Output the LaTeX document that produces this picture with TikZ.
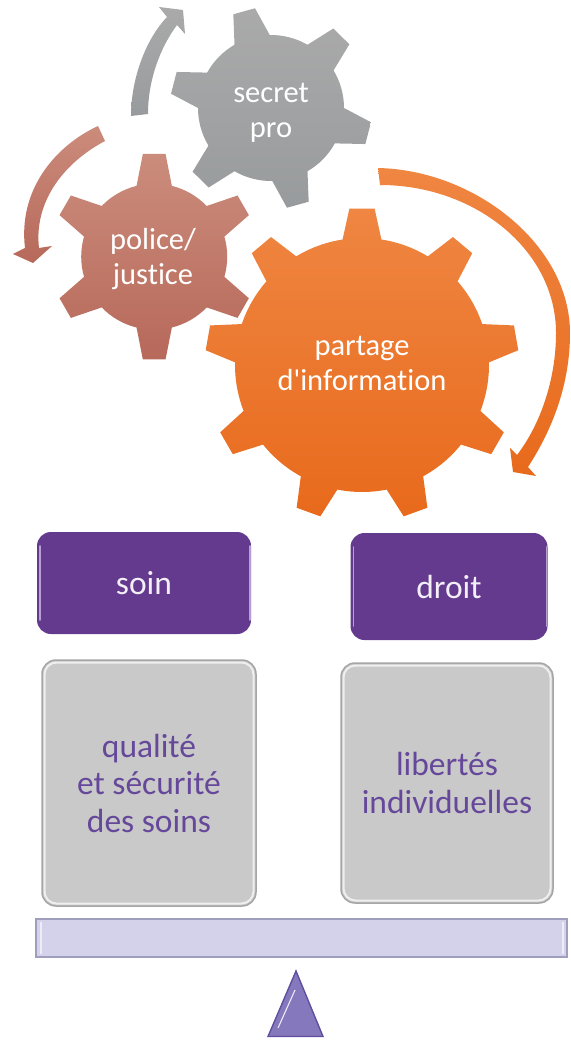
\documentclass[tikz,border=0pt]{standalone}
\usepackage{fontspec}
\setmainfont[Ligatures=NoCommon]{Carlito}
\definecolor{purpleBox}{HTML}{643A8F}
\definecolor{purpleLight}{HTML}{B79FD0}
\definecolor{purpleText}{HTML}{66489A}
\definecolor{grayBox}{HTML}{C9C9C9}
\definecolor{grayEdge}{HTML}{A6A6A6}
\definecolor{grayLight}{HTML}{EFEFEF}
\definecolor{barFill}{HTML}{D3D2EA}
\definecolor{barEdge}{HTML}{A09EBE}
\definecolor{triFill}{HTML}{8678BC}
\definecolor{triEdge}{HTML}{5F4F9C}
\tikzset{
  x=1pt,y=-1pt,
  grayshade/.style={top color={rgb,255:red,170;green,170;blue,170},bottom color={rgb,255:red,152;green,155;blue,157}},
  policeshade/.style={top color={rgb,255:red,203;green,140;blue,124},bottom color={rgb,255:red,183;green,105;blue,90}},
  orangeshade/.style={top color={rgb,255:red,239;green,134;blue,66},bottom color={rgb,255:red,232;green,106;blue,28}},
  geartext/.style={text=white,align=center,font=\fontsize{30.5}{35}\selectfont,inner sep=0pt},
  box/.style={rectangle,rounded corners=14pt,inner sep=0pt,outer sep=0pt,align=center,font=\fontsize{33.5}{37.5}\selectfont},
  purplebox/.style={box,fill=purpleBox,text=white!92!purpleBox},
  graybox/.style={box,fill=grayBox,draw=grayEdge,line width=1.5pt,text=purpleText},
  sidelight/.style={line width=1.6pt,line cap=round},
}
% cx cy rbody router nteeth firstangle baseHalfAngle tipHalfAngle shadingstyle
\newcommand{\drawgear}[9]{%
  \begin{scope}[shift={(#1,#2)},x=1pt,y=1pt]
    \pgfmathsetmacro{\gstep}{360/#5}
    \pgfmathsetmacro{\gsecond}{#6+\gstep}
    \pgfmathsetmacro{\glast}{#6+\gstep*(#5-1)}
    \pgfmathsetmacro{\gdelta}{\gstep-2*#7}
    \shade[#9] ({#6-#7}:#3)
      foreach \a in {#6,\gsecond,...,\glast} {
        -- ({\a-#8}:#4) -- ({\a+#8}:#4) -- ({\a+#7}:#3)
        arc[start angle={\a+#7},delta angle=\gdelta,radius=#3]
      } -- cycle;
  \end{scope}}
% node, colour: straight highlights along the left and right sides
\newcommand{\sidebevel}[2]{%
  \draw[#2,sidelight] ([xshift=3pt,yshift=-14pt]#1.north west) -- ([xshift=3pt,yshift=14pt]#1.south west);
  \draw[#2,sidelight] ([xshift=-1pt,yshift=-14pt]#1.north east) -- ([xshift=-1pt,yshift=14pt]#1.south east);}
\newcommand{\fullbevel}[2]{%
  \draw[#2,line width=2pt,rounded corners=12pt]
    ([xshift=2.5pt,yshift=-2.5pt]#1.north west) rectangle ([xshift=-2.5pt,yshift=2.5pt]#1.south east);}
\begin{document}
\begin{tikzpicture}
\useasboundingbox (0,0) rectangle (570,1040);
\clip (0,0) rectangle (570,1040);
% gears
\drawgear{271}{108}{73}{101}{6}{105.5}{14.5}{6.4}{grayshade}
\drawgear{154.2}{256.7}{73}{103.4}{6}{90}{14}{6.3}{policeshade}
\begin{scope}
  \clip (0,0) rectangle (570,517.5);
  \drawgear{362}{365}{127}{157}{9}{90}{8.8}{4.6}{orangeshade}
\end{scope}
% circular arrows
\shade[grayshade] (131,116) .. controls (131,80) and (145,40) .. (167,17)
  -- (159,7) -- (183,10) -- (185,34) -- (177,25)
  .. controls (160,48) and (148,80) .. (148,114) -- cycle;
\shade[policeshade] (98,126) .. controls (55,146) and (18,190) .. (25,248)
  -- (13,254) -- (33,263) -- (52,246) -- (39,248)
  .. controls (34,205) and (60,165) .. (105,141) -- cycle;
\shade[orangeshade] (378,168) .. controls (475,170) and (570,245) .. (570,333)
  .. controls (570,385) and (552,430) .. (528,467)
  -- (536,476) -- (513,472) -- (510,448) -- (517,455)
  .. controls (540,425) and (556,380) .. (556,333)
  .. controls (556,250) and (475,185) .. (380,185) -- cycle;
% gear labels
\node[geartext] (secretpro) at (271,113) {secret\\pro};
\node[geartext] (police) at (153,259) {police/\\justice};
\node[geartext] (partage) at (362,363) {partage\\d\textquotesingle information};
% boxes
\node[purplebox,minimum width=214pt,minimum height=102pt] (soin) at (144,583) {soin};
\node[purplebox,minimum width=197pt,minimum height=107pt] (droit) at (449,586.5) {droit};
\node[graybox,minimum width=214pt,minimum height=246pt] (qualite) at (149,783) {qualité\\et sécurité\\des soins};
\node[graybox,minimum width=212pt,minimum height=240pt] (libertes) at (447,783) {libertés\\individuelles};
\sidebevel{soin}{purpleLight}
\sidebevel{droit}{purpleLight}
\fullbevel{qualite}{grayLight}
\fullbevel{libertes}{grayLight}
% beam
\node[rectangle,fill=barFill,draw=barEdge,line width=1.4pt,minimum width=531pt,minimum height=38pt,inner sep=0pt,outer sep=0pt] (beam) at (301.5,938) {};
\draw[white!60!barFill,line width=1.6pt] ([xshift=5pt,yshift=-3pt]beam.north west) -- ([xshift=5pt,yshift=3pt]beam.south west);
\draw[white!60!barFill,line width=1.6pt] ([xshift=-4pt,yshift=-3pt]beam.north east) -- ([xshift=-4pt,yshift=3pt]beam.south east);
% fulcrum
\node[coordinate] (apex) at (296,971) {};
\node[coordinate] (baseL) at (268,1036.5) {};
\node[coordinate] (baseR) at (323,1036.5) {};
\draw[fill=triFill,draw=triEdge,line width=1.4pt,line join=miter] (apex) -- (baseL) -- (baseR) -- cycle;
\draw[white!85!triFill,line width=1.1pt] (295,990) -- (278,1028);
\end{tikzpicture}
\end{document}
